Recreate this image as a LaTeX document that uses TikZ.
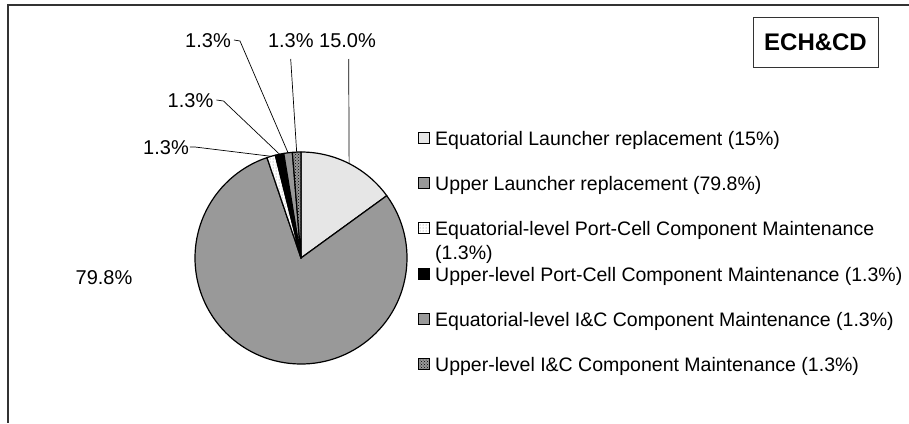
\documentclass[tikz,border=0pt]{standalone}
\usepackage{fontspec}
\setmainfont{Liberation Sans}
\usetikzlibrary{patterns}
\definecolor{lgray}{HTML}{E6E6E6}
\definecolor{mgray}{HTML}{999999}
\definecolor{framec}{HTML}{333333}
\begin{document}
\begin{tikzpicture}[x=1pt,y=1pt,
  txt/.style={font=\fontsize{20}{24}\selectfont, inner sep=0pt, text height=14.5pt, text depth=0pt},
  leg/.style={font=\fontsize{19.5}{23}\selectfont, inner sep=0pt, text height=14pt, text depth=0pt, anchor=west},
  legbox/.style={draw=black, line width=0.8pt, minimum size=11pt, inner sep=0pt},
  slice/.style={draw=black, line width=1.2pt, line join=round},
  leader/.style={draw=black, line width=0.7pt},
  dotfill/.style={preaction={fill=white}, pattern=dots, pattern color=gray},
  chkfill/.style={preaction={fill=mgray}, pattern=crosshatch dots, pattern color=black}
]
\useasboundingbox (0,0) rectangle (909,-423);
\draw[framec, line width=1.4pt] (909,-5) -- (8,-5) -- (8,-423);

% pie
\coordinate (C) at (301,-258);
\def\R{106pt}
\draw[slice, fill=lgray] (C) -- ++(90:\R) arc[start angle=90, end angle=36, radius=\R] -- cycle;
\draw[slice, fill=mgray] (C) -- ++(36:\R) arc[start angle=36, end angle=-251.28, radius=\R] -- cycle;
\draw[slice, dotfill] (C) -- ++(108.72:\R) arc[start angle=108.72, end angle=104.04, radius=\R] -- cycle;
\draw[slice, fill=black] (C) -- ++(104.04:\R) arc[start angle=104.04, end angle=99.36, radius=\R] -- cycle;
\draw[slice, fill=mgray] (C) -- ++(99.36:\R) arc[start angle=99.36, end angle=94.68, radius=\R] -- cycle;
\draw[slice, chkfill] (C) -- ++(94.68:\R) arc[start angle=94.68, end angle=90, radius=\R] -- cycle;

\path (C) ++(63:\R) coordinate (p1);
\path (C) ++(106.38:\R) coordinate (p3);
\path (C) ++(101.7:\R) coordinate (p4);
\path (C) ++(97.02:\R) coordinate (p5);
\path (C) ++(92.34:\R) coordinate (p6);

% data labels
\node[txt] (l15) at (347.5,-40) {15.0\%};
\node[txt] (l13a) at (290.8,-40) {1.3\%};
\node[txt] (l13b) at (208,-40) {1.3\%};
\node[txt] (l13c) at (190.5,-100) {1.3\%};
\node[txt] (l13d) at (166,-147) {1.3\%};
\node[txt] (l79) at (104,-277) {79.8\%};

\coordinate (e1) at (348.7,-59);
\coordinate (e2) at (290.7,-59);
\draw[leader] (e1) -- (p1);
\draw[leader] (e2) -- (p6);
\draw[leader] ([xshift=3pt]l13b.east) -- ++(6,-1) -- (p5);
\draw[leader] ([xshift=3pt]l13c.east) -- ++(7,-1) -- (p4);
\draw[leader] ([xshift=1pt]l13d.east) -- ++(5,0) -- (p3);

% legend
\node[legbox, fill=lgray] (m1) at (424,-138) {};
\node[leg] (t1) at (435,-138) {Equatorial Launcher replacement (15\%)};
\node[legbox, fill=mgray] (m2) at (424,-183) {};
\node[leg] (t2) at (435,-183) {Upper Launcher replacement (79.8\%)};
\node[legbox, dotfill] (m3) at (424,-228) {};
\node[leg] (t3) at (435,-228) {Equatorial-level Port-Cell Component Maintenance};
\node[leg] (t3b) at (435,-252) {(1.3\%)};
\node[legbox, fill=black] (m4) at (424,-274) {};
\node[leg] (t4) at (435,-274) {Upper-level Port-Cell Component Maintenance (1.3\%)};
\node[legbox, fill=mgray] (m5) at (424,-319) {};
\node[leg] (t5) at (435,-319) {Equatorial-level I\&C Component Maintenance (1.3\%)};
\node[legbox, chkfill] (m6) at (424,-364) {};
\node[leg] (t6) at (435,-364) {Upper-level I\&C Component Maintenance (1.3\%)};

% title box
\node[draw=framec, line width=0.8pt, minimum width=125pt, minimum height=50pt, inner sep=0pt,
  font=\bfseries\fontsize{24}{28}\selectfont] (title) at (815.5,-42) {ECH\&CD};
\end{tikzpicture}
\end{document}
